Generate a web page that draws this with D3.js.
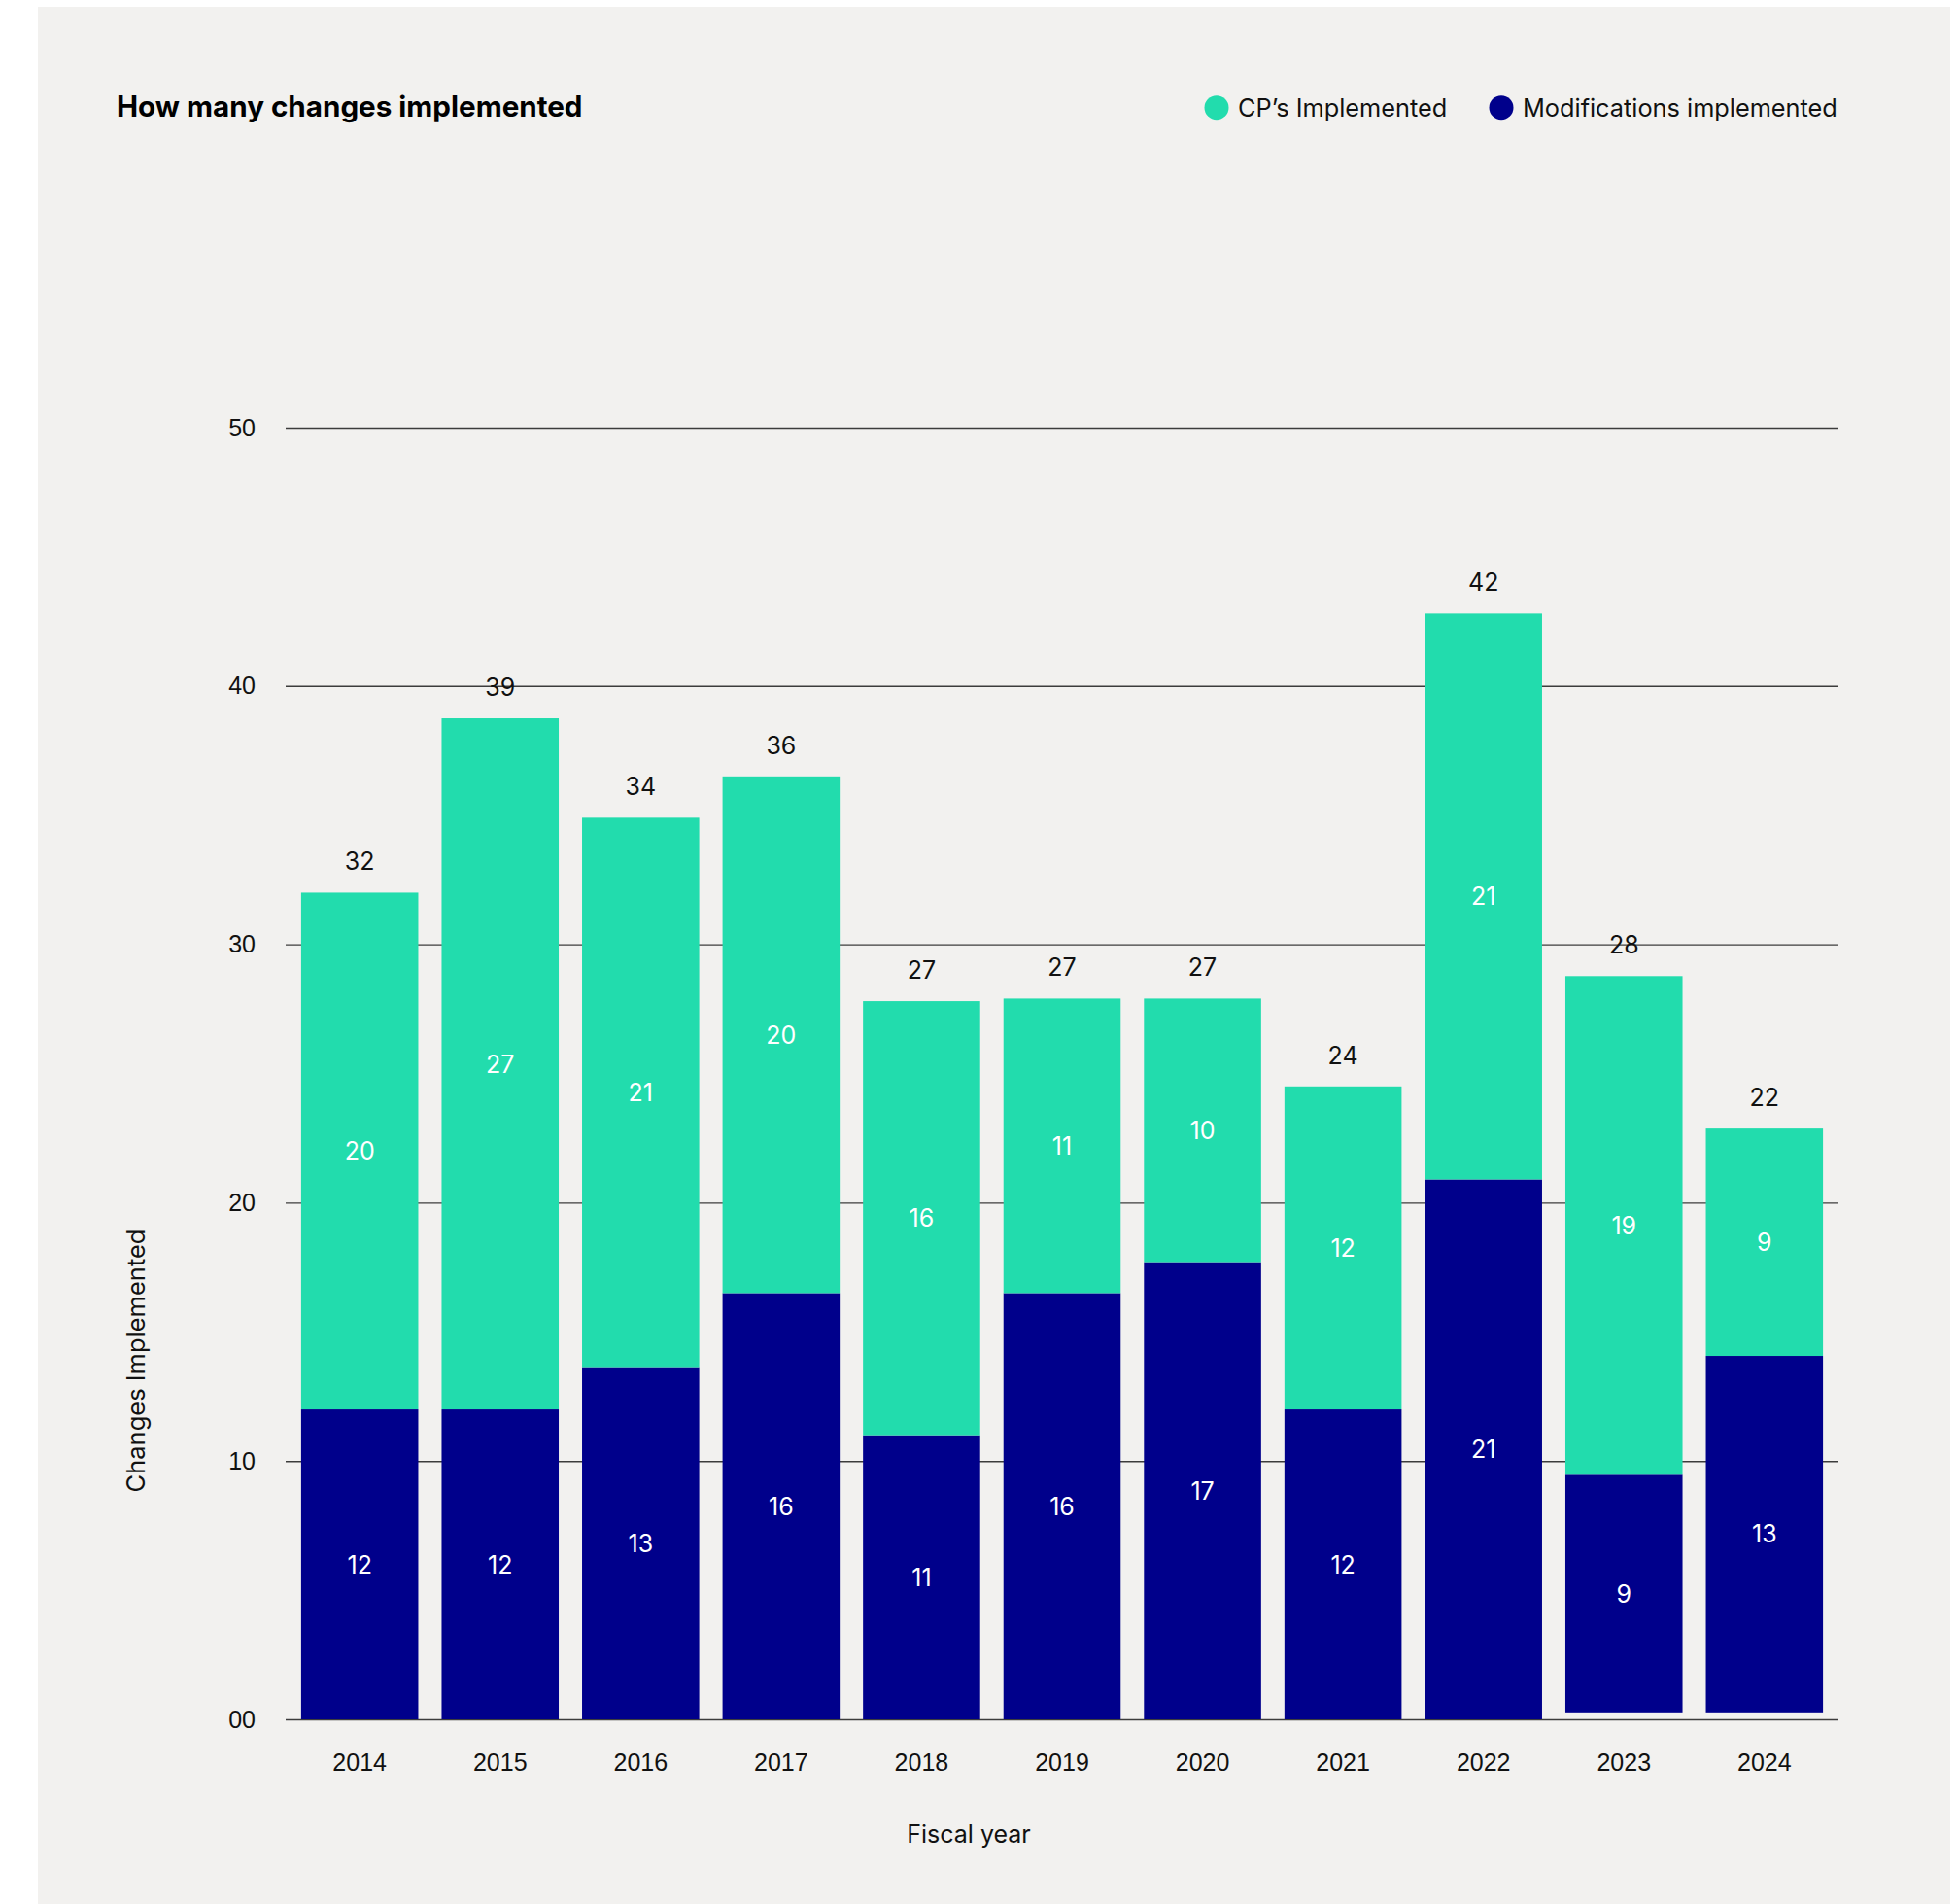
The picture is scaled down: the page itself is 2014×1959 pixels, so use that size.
<!DOCTYPE html>
<html>
<head>
<meta charset="utf-8">
<script src="https://cdn.jsdelivr.net/npm/d3@7"></script>
<style>
  body { margin: 0; background: #ffffff; }
  svg { display: block; font-family: Inter, "Noto Sans", sans-serif; }
  .grid line { stroke: #3c3c3c; stroke-width: 1.4; }
  .grid text { font-size: 25px; fill: #111; }
  .x-axis text { font-size: 25px; fill: #111; }
  .seg-label { font-size: 25px; fill: #ffffff; }
  .total-label { font-size: 25px; fill: #111; }
</style>
</head>
<body>
<div id="chart"></div>
<script>
// fiscal years on the x axis
var years = ['2014', '2015', '2016', '2017', '2018', '2019', '2020', '2021', '2022', '2023', '2024'];

// bar segment heights as drawn
var barBase = [0, 0, 0, 0, 0, 0, 0, 0, 0, 0.27, 0.27];
var modBar = [12, 12, 13.6, 16.5, 11, 16.5, 17.7, 12, 20.9, 9.2, 13.8];
var cpBar = [20, 26.75, 21.3, 20, 16.8, 11.4, 10.2, 12.5, 21.9, 19.3, 8.8];

// numbers printed on the chart
var modLabels = [12, 12, 13, 16, 11, 16, 17, 12, 21, 9, 13];
var cpLabels = [20, 27, 21, 20, 16, 11, 10, 12, 21, 19, 9];
var totalLabels = [32, 39, 34, 36, 27, 27, 27, 24, 42, 28, 22];

var yTicks = [0, 10, 20, 30, 40, 50];

var teal = '#22dcad', navy = '#00008b';

var width = 2014, height = 1959;
var margins = {top: 440, left: 294, right: 122, bottom: 190};

var svg = d3.select('#chart').append('svg')
  .attr('width', width)
  .attr('height', height);

// light card behind everything
svg.append('rect')
  .attr('x', 39).attr('y', 7)
  .attr('width', 1968).attr('height', 1952)
  .attr('fill', '#f2f1ef');

var x = d3.scaleBand()
  .domain(years)
  .range([margins.left, width - margins.right])
  .paddingInner(0.166)
  .paddingOuter(0.11);

var y = d3.scaleLinear()
  .domain([0, 50])
  .range([height - margins.bottom, margins.top]);

var rows = years.map(function (yr, i) {
  return {year: yr, base: barBase[i], mod: modBar[i], cp: cpBar[i], i: i};
});

var series = d3.stack().keys(['base', 'mod', 'cp'])(rows);

// gridlines + y labels
svg.append('g')
  .attr('class', 'grid')
  .attr('transform', 'translate(' + margins.left + ',0)')
  .call(d3.axisLeft(y)
    .tickValues(yTicks)
    .tickSize(-(width - margins.left - margins.right))
    .tickPadding(31)
    .tickFormat(function (d) { return d === 0 ? '00' : d; }))
  .call(function (g) { g.select('.domain').remove(); });

// bars
var colors = {mod: navy, cp: teal};
svg.append('g')
  .selectAll('g')
  .data(series.filter(function (s) { return s.key !== 'base'; }))
  .join('g')
    .attr('fill', function (s) { return colors[s.key]; })
  .selectAll('rect')
  .data(function (s) { return s; })
  .join('rect')
    .attr('x', function (d) { return x(d.data.year); })
    .attr('y', function (d) { return y(d[1]); })
    .attr('height', function (d) { return y(d[0]) - y(d[1]); })
    .attr('width', x.bandwidth());

// white numbers inside segments
var labelsFor = {mod: modLabels, cp: cpLabels};
series.filter(function (s) { return s.key !== 'base'; }).forEach(function (s) {
  svg.append('g')
    .selectAll('text')
    .data(s)
    .join('text')
      .attr('class', 'seg-label')
      .attr('text-anchor', 'middle')
      .attr('x', function (d) { return x(d.data.year) + x.bandwidth() / 2; })
      .attr('y', function (d) { return y((d[0] + d[1]) / 2); })
      .attr('dy', '0.36em')
      .text(function (d) { return labelsFor[s.key][d.data.i]; });
});

// totals on top
var topLayer = series[series.length - 1];
svg.append('g')
  .selectAll('text')
  .data(topLayer)
  .join('text')
    .attr('class', 'total-label')
    .attr('text-anchor', 'middle')
    .attr('x', function (d) { return x(d.data.year) + x.bandwidth() / 2; })
    .attr('y', function (d) { return y(d[1]) - 23; })
    .text(function (d) { return totalLabels[d.data.i]; });

// x axis labels
svg.append('g')
  .attr('class', 'x-axis')
  .attr('transform', 'translate(0,' + y(0) + ')')
  .call(d3.axisBottom(x).tickSize(0).tickPadding(35))
  .call(function (g) { g.select('.domain').remove(); });

// axis titles
svg.append('text')
  .attr('x', 997).attr('y', 1896)
  .attr('text-anchor', 'middle')
  .attr('font-size', 25)
  .attr('fill', '#111')
  .text('Fiscal year');

svg.append('text')
  .attr('transform', 'translate(149,1400) rotate(-90)')
  .attr('text-anchor', 'middle')
  .attr('font-size', 25.5)
  .attr('fill', '#111')
  .text('Changes Implemented');

// title
svg.append('text')
  .attr('x', 120).attr('y', 120)
  .attr('font-size', 29.6)
  .attr('font-weight', 700)
  .attr('fill', '#000')
  .text('How many changes implemented');

// legend
var legend = [
  {name: 'CP\u2019s Implemented', color: teal, cx: 1252},
  {name: 'Modifications implemented', color: navy, cx: 1545}
];
var lg = svg.append('g').selectAll('g')
  .data(legend)
  .join('g');
lg.append('circle')
  .attr('cx', function (d) { return d.cx; })
  .attr('cy', 110.7)
  .attr('r', 12.5)
  .attr('fill', function (d) { return d.color; });
lg.append('text')
  .attr('x', function (d) { return d.cx + 22; })
  .attr('y', 119.5)
  .attr('font-size', 25.3)
  .attr('fill', '#111')
  .text(function (d) { return d.name; });
</script>
</body>
</html>
